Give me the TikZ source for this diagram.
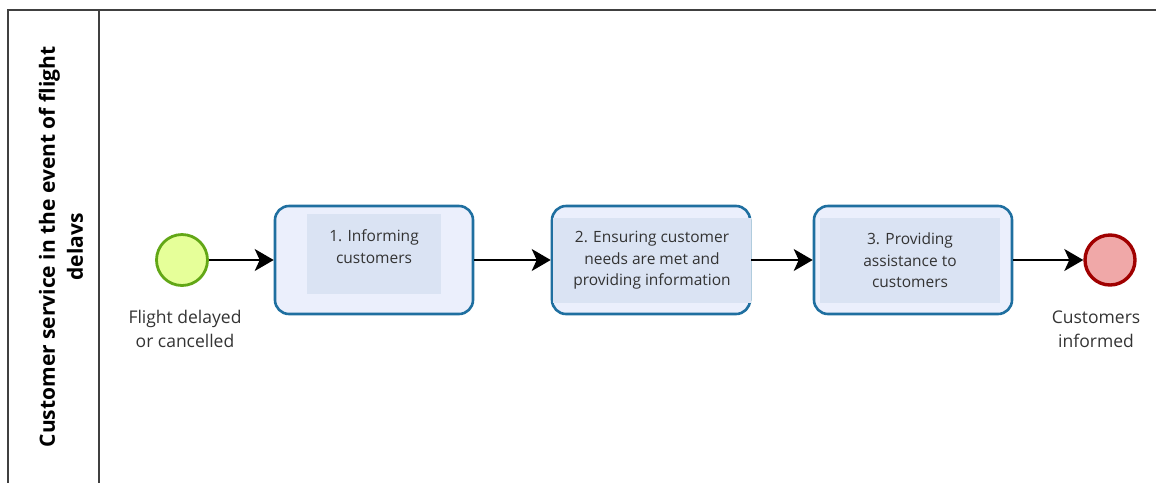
\documentclass[tikz,border=0pt]{standalone}
\usepackage{fontspec}
\setmainfont{Open Sans}
\usetikzlibrary{arrows.meta}

\definecolor{taskline}{HTML}{1F6FA0}
\definecolor{taskfill}{HTML}{EBEFFC}
\definecolor{taskinner}{HTML}{DAE3F3}
\definecolor{startline}{HTML}{62A716}
\definecolor{startfill}{HTML}{E6FF99}
\definecolor{endline}{HTML}{A00000}
\definecolor{endfill}{HTML}{F0A8A8}
\definecolor{txt}{HTML}{333333}

\begin{document}
\begin{tikzpicture}[x=1pt,y=-1pt,
	task/.style={draw=taskline,fill=taskfill,line width=2.6pt,rounded corners=14pt,
		minimum width=198pt,minimum height=108pt,inner sep=0pt},
	inner/.style={fill=taskinner,inner sep=0pt},
	tasktext/.style={text=txt,align=center,font=\fontsize{15.5}{21.5}\selectfont},
	evlabel/.style={text=txt,align=center,font=\fontsize{17.5}{24}\selectfont},
	flow/.style={line width=1.5pt,-{Stealth[length=19pt,width=22pt,inset=5pt]}}]
					
	\useasboundingbox (0,0) rectangle (1156,483);
	
	% pool and lane header
	\draw [line width=1.5pt,draw=black!75] (1156,10)--(8,10)--(8,483);
	\draw [line width=1.5pt,draw=black!75] (99,10)--(99,483);
	\node [rotate=90,align=center,font=\fontsize{21}{28}\selectfont\bfseries] (lane) at (61,247)
		{Customer service in the event of flight\\delavs};
	
	% events
	\node [circle,draw=startline,fill=startfill,line width=2.8pt,minimum size=51pt,inner sep=0pt] (start) at (182,260) {};
	\node [evlabel] (startlabel) at (185,329) {Flight delayed\\or cancelled};
	
	\node [circle,draw=endline,fill=endfill,line width=3.4pt,minimum size=50pt,inner sep=0pt] (end) at (1110,260) {};
	\node [evlabel] (endlabel) at (1096,329) {Customers\\informed};
	
	% tasks
	\node [task] (t1) at (374,260) {};
	\node [inner,minimum width=134pt,minimum height=80pt] (t1in) at (374,254) {};
	\node [tasktext] (t1text) at (374,246.5) {1. Informing\\customers};
	
	\node [task] (t2) at (651,260) {};
	\node [inner,minimum width=198pt,minimum height=85pt] (t2in) at (652,260.5) {};
	\node [tasktext] (t2text) at (652,260.5) {2. Ensuring customer\\needs are met and\\providing information};
	
	\node [task] (t3) at (913,260) {};
	\node [inner,minimum width=180pt,minimum height=85pt] (t3in) at (910,260.5) {};
	\node [tasktext] (t3text) at (910,260.5) {3. Providing\\assistance to\\customers};
	
	% flows
	\draw [flow] (start) -- (t1);
	\draw [flow] (t1) -- (t2);
	\draw [flow] (t2) -- (t3);
	\draw [flow] (t3) -- (end);
	
\end{tikzpicture}
\end{document}
